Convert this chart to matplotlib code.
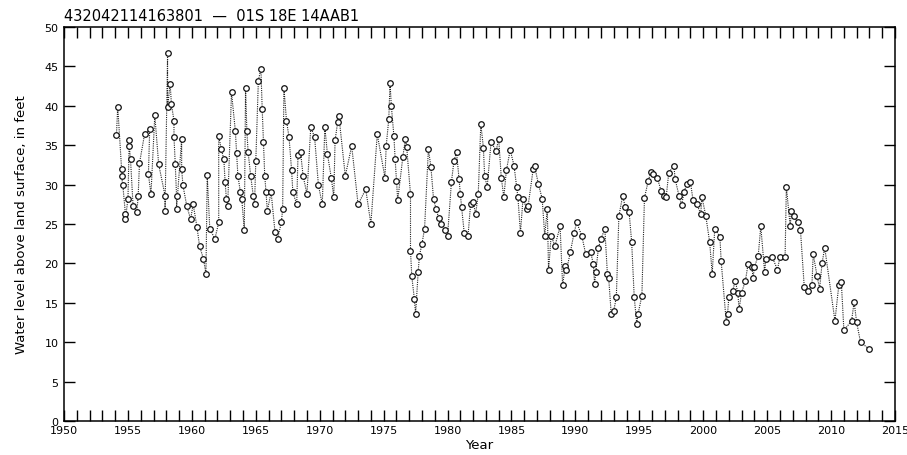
import numpy as np
import matplotlib as mpl; mpl.use("Agg")
import matplotlib.pyplot as plt
from matplotlib.ticker import MultipleLocator

# water-level record (decimal year, feet above land surface)
YEARS = [1954.1, 1954.2, 1954.5, 1954.5, 1954.6, 1954.8, 1954.8, 1955.0, 1955.1, 1955.1, 1955.2,
         1955.4, 1955.7, 1955.8, 1955.9, 1956.3, 1956.7, 1956.6, 1956.8, 1957.1, 1957.4, 1957.9,
         1957.9, 1958.1, 1958.1, 1958.3, 1958.4, 1958.6, 1958.6, 1958.7, 1958.8, 1958.8, 1959.2,
         1959.2, 1959.3, 1959.6, 1959.9, 1960.1, 1960.4, 1960.6, 1960.9, 1961.1, 1961.2, 1961.4,
         1961.8, 1962.1, 1962.1, 1962.3, 1962.5, 1962.6, 1962.7, 1962.8, 1963.1, 1963.4, 1963.5,
         1963.6, 1963.8, 1963.9, 1964.1, 1964.2, 1964.3, 1964.4, 1964.6, 1964.8, 1964.9, 1965.0,
         1965.2, 1965.4, 1965.5, 1965.6, 1965.7, 1965.8, 1965.9, 1966.2, 1966.5, 1966.7, 1967.0,
         1967.1, 1967.2, 1967.4, 1967.6, 1967.8, 1967.9, 1968.2, 1968.3, 1968.5, 1968.7, 1969.0,
         1969.3, 1969.6, 1969.9, 1970.2, 1970.4, 1970.6, 1970.9, 1971.1, 1971.2, 1971.4, 1971.5,
         1972.0, 1972.5, 1973.0, 1973.6, 1974.0, 1974.5, 1975.1, 1975.2, 1975.4, 1975.5, 1975.6,
         1975.8, 1975.9, 1976.0, 1976.1, 1976.5, 1976.7, 1976.8, 1977.1, 1977.1, 1977.2, 1977.4,
         1977.5, 1977.7, 1977.8, 1978.0, 1978.2, 1978.5, 1978.7, 1978.9, 1979.1, 1979.3, 1979.5,
         1979.8, 1980.0, 1980.3, 1980.5, 1980.7, 1980.9, 1981.0, 1981.1, 1981.3, 1981.6, 1981.8,
         1982.0, 1982.2, 1982.4, 1982.6, 1982.8, 1982.9, 1983.1, 1983.4, 1983.8, 1984.0, 1984.2,
         1984.4, 1984.6, 1984.9, 1985.2, 1985.4, 1985.5, 1985.7, 1985.9, 1986.2, 1986.3, 1986.7,
         1986.8, 1987.1, 1987.4, 1987.6, 1987.8, 1987.9, 1988.1, 1988.4, 1988.8, 1989.0, 1989.2,
         1989.3, 1989.6, 1989.9, 1990.1, 1990.5, 1990.8, 1991.2, 1991.4, 1991.5, 1991.6, 1991.8,
         1992.0, 1992.3, 1992.5, 1992.6, 1992.8, 1993.0, 1993.2, 1993.4, 1993.7, 1993.9, 1994.2,
         1994.4, 1994.6, 1994.8, 1994.9, 1995.2, 1995.4, 1995.7, 1995.9, 1996.1, 1996.4, 1996.7,
         1996.9, 1997.1, 1997.3, 1997.7, 1997.8, 1998.1, 1998.3, 1998.5, 1998.7, 1999.0, 1999.2,
         1999.5, 1999.8, 1999.9, 2000.2, 2000.5, 2000.7, 2000.9, 2001.3, 2001.4, 2001.8, 2001.9,
         2002.0, 2002.3, 2002.5, 2002.7, 2002.8, 2003.0, 2003.3, 2003.5, 2003.8, 2003.9, 2004.0,
         2004.3, 2004.5, 2004.8, 2004.9, 2005.4, 2005.8, 2006.0, 2006.4, 2006.5, 2006.8, 2006.9,
         2007.1, 2007.4, 2007.6, 2007.9, 2008.2, 2008.5, 2008.6, 2008.9, 2009.1, 2009.3, 2009.5,
         2010.3, 2010.6, 2010.8, 2011.0, 2011.6, 2011.8, 2012.0, 2012.3, 2013.0]
LEVELS = [36.3, 39.9, 32.0, 31.1, 29.9, 26.3, 25.6, 28.2, 35.6, 34.9, 33.2,
          27.3, 26.5, 28.6, 32.7, 36.4, 37.0, 31.3, 28.8, 38.8, 32.6, 28.6,
          26.7, 46.7, 39.8, 42.8, 40.2, 38.1, 36.0, 32.6, 28.6, 26.9, 35.8,
          32.0, 29.9, 27.3, 25.6, 27.5, 24.6, 22.2, 20.6, 18.7, 31.2, 24.4,
          23.1, 25.2, 36.2, 34.5, 33.2, 30.3, 28.2, 27.3, 41.7, 36.8, 34.0,
          31.1, 29.0, 28.2, 24.2, 42.3, 36.8, 34.1, 31.1, 28.6, 27.5, 33.0,
          43.2, 44.7, 39.6, 35.4, 31.1, 29.0, 26.7, 29.0, 24.0, 23.1, 25.2,
          26.9, 42.3, 38.1, 36.0, 31.8, 29.0, 27.5, 33.7, 34.1, 31.1, 28.8,
          37.3, 36.0, 29.9, 27.5, 37.3, 33.9, 30.9, 28.4, 35.6, 37.9, 38.7,
          31.1, 34.9, 27.5, 29.4, 25.0, 36.4, 30.9, 34.9, 38.3, 42.9, 40.0,
          36.2, 33.2, 30.5, 28.0, 33.5, 35.8, 34.8, 28.8, 21.6, 18.4, 15.5,
          13.6, 18.9, 21.0, 22.5, 24.4, 34.5, 32.2, 28.2, 26.9, 25.8, 25.0,
          24.2, 23.5, 30.3, 33.0, 34.1, 30.7, 28.8, 27.1, 23.9, 23.5, 27.5,
          27.8, 26.3, 28.8, 37.7, 34.7, 31.1, 29.7, 35.4, 34.3, 35.8, 30.9,
          28.4, 31.8, 34.4, 32.4, 29.7, 28.4, 23.9, 28.2, 26.9, 27.3, 32.0,
          32.4, 30.1, 28.2, 23.5, 26.9, 19.1, 23.5, 22.2, 24.7, 17.2, 19.7,
          19.1, 21.4, 23.9, 25.2, 23.5, 21.2, 21.4, 19.9, 17.4, 18.9, 22.0,
          23.1, 24.4, 18.7, 18.2, 13.6, 14.0, 15.7, 26.0, 28.6, 27.1, 26.5,
          22.7, 15.7, 12.3, 13.6, 15.9, 28.3, 30.5, 31.6, 31.3, 30.9, 29.2,
          28.6, 28.4, 31.5, 32.4, 30.7, 28.6, 27.4, 29.0, 30.1, 30.3, 28.0,
          27.5, 26.3, 28.4, 26.0, 22.7, 18.7, 24.4, 23.4, 20.3, 12.5, 13.6,
          15.7, 16.5, 17.8, 16.3, 14.2, 16.3, 17.8, 19.9, 19.5, 18.2, 19.5,
          21.0, 24.7, 18.9, 20.6, 20.8, 19.2, 20.8, 20.8, 29.7, 24.7, 26.7,
          26.0, 25.2, 24.3, 17.0, 16.5, 17.2, 21.2, 18.4, 16.8, 20.1, 22.0,
          12.7, 17.2, 17.6, 11.5, 12.7, 15.1, 12.5, 10.0, 9.1]

TITLE = "432042114163801  \u2014  01S 18E 14AAB1"
FONT = ["Liberation Sans Narrow", "DejaVu Sans"]
plt.rcParams["font.family"] = FONT

fig = plt.figure(figsize=(9.07, 4.56), dpi=100)
ax = fig.add_axes([0.0706, 0.0746, 0.9162, 0.864])

ax.plot(YEARS, LEVELS, color="#222", lw=0.8, ls=(0, (1, 1)),
        marker="o", ms=4, mfc="white", mec="#111", mew=0.9)

ax.set_xlim(1950, 2015)
ax.set_ylim(0, 50)
ax.xaxis.set_major_locator(MultipleLocator(5))
ax.xaxis.set_minor_locator(MultipleLocator(1))
ax.yaxis.set_major_locator(MultipleLocator(5))
ax.tick_params(axis="x", which="both", direction="in", top=True, length=8, width=1.0,
               labelsize=8, pad=3)
ax.tick_params(axis="y", which="both", direction="in", right=True, length=8, width=1.0,
               labelsize=8, pad=4)
for s in ax.spines.values():
    s.set_linewidth(1.1)

ax.set_xlabel("Year", fontsize=9.5, labelpad=2)
ax.set_ylabel("Water level above land surface, in feet", fontsize=9.5, labelpad=12)
ax.text(0.0, 1.01, TITLE, transform=ax.transAxes, fontsize=10.5, ha="left", va="bottom")

fig.savefig("out.png", dpi=100)
